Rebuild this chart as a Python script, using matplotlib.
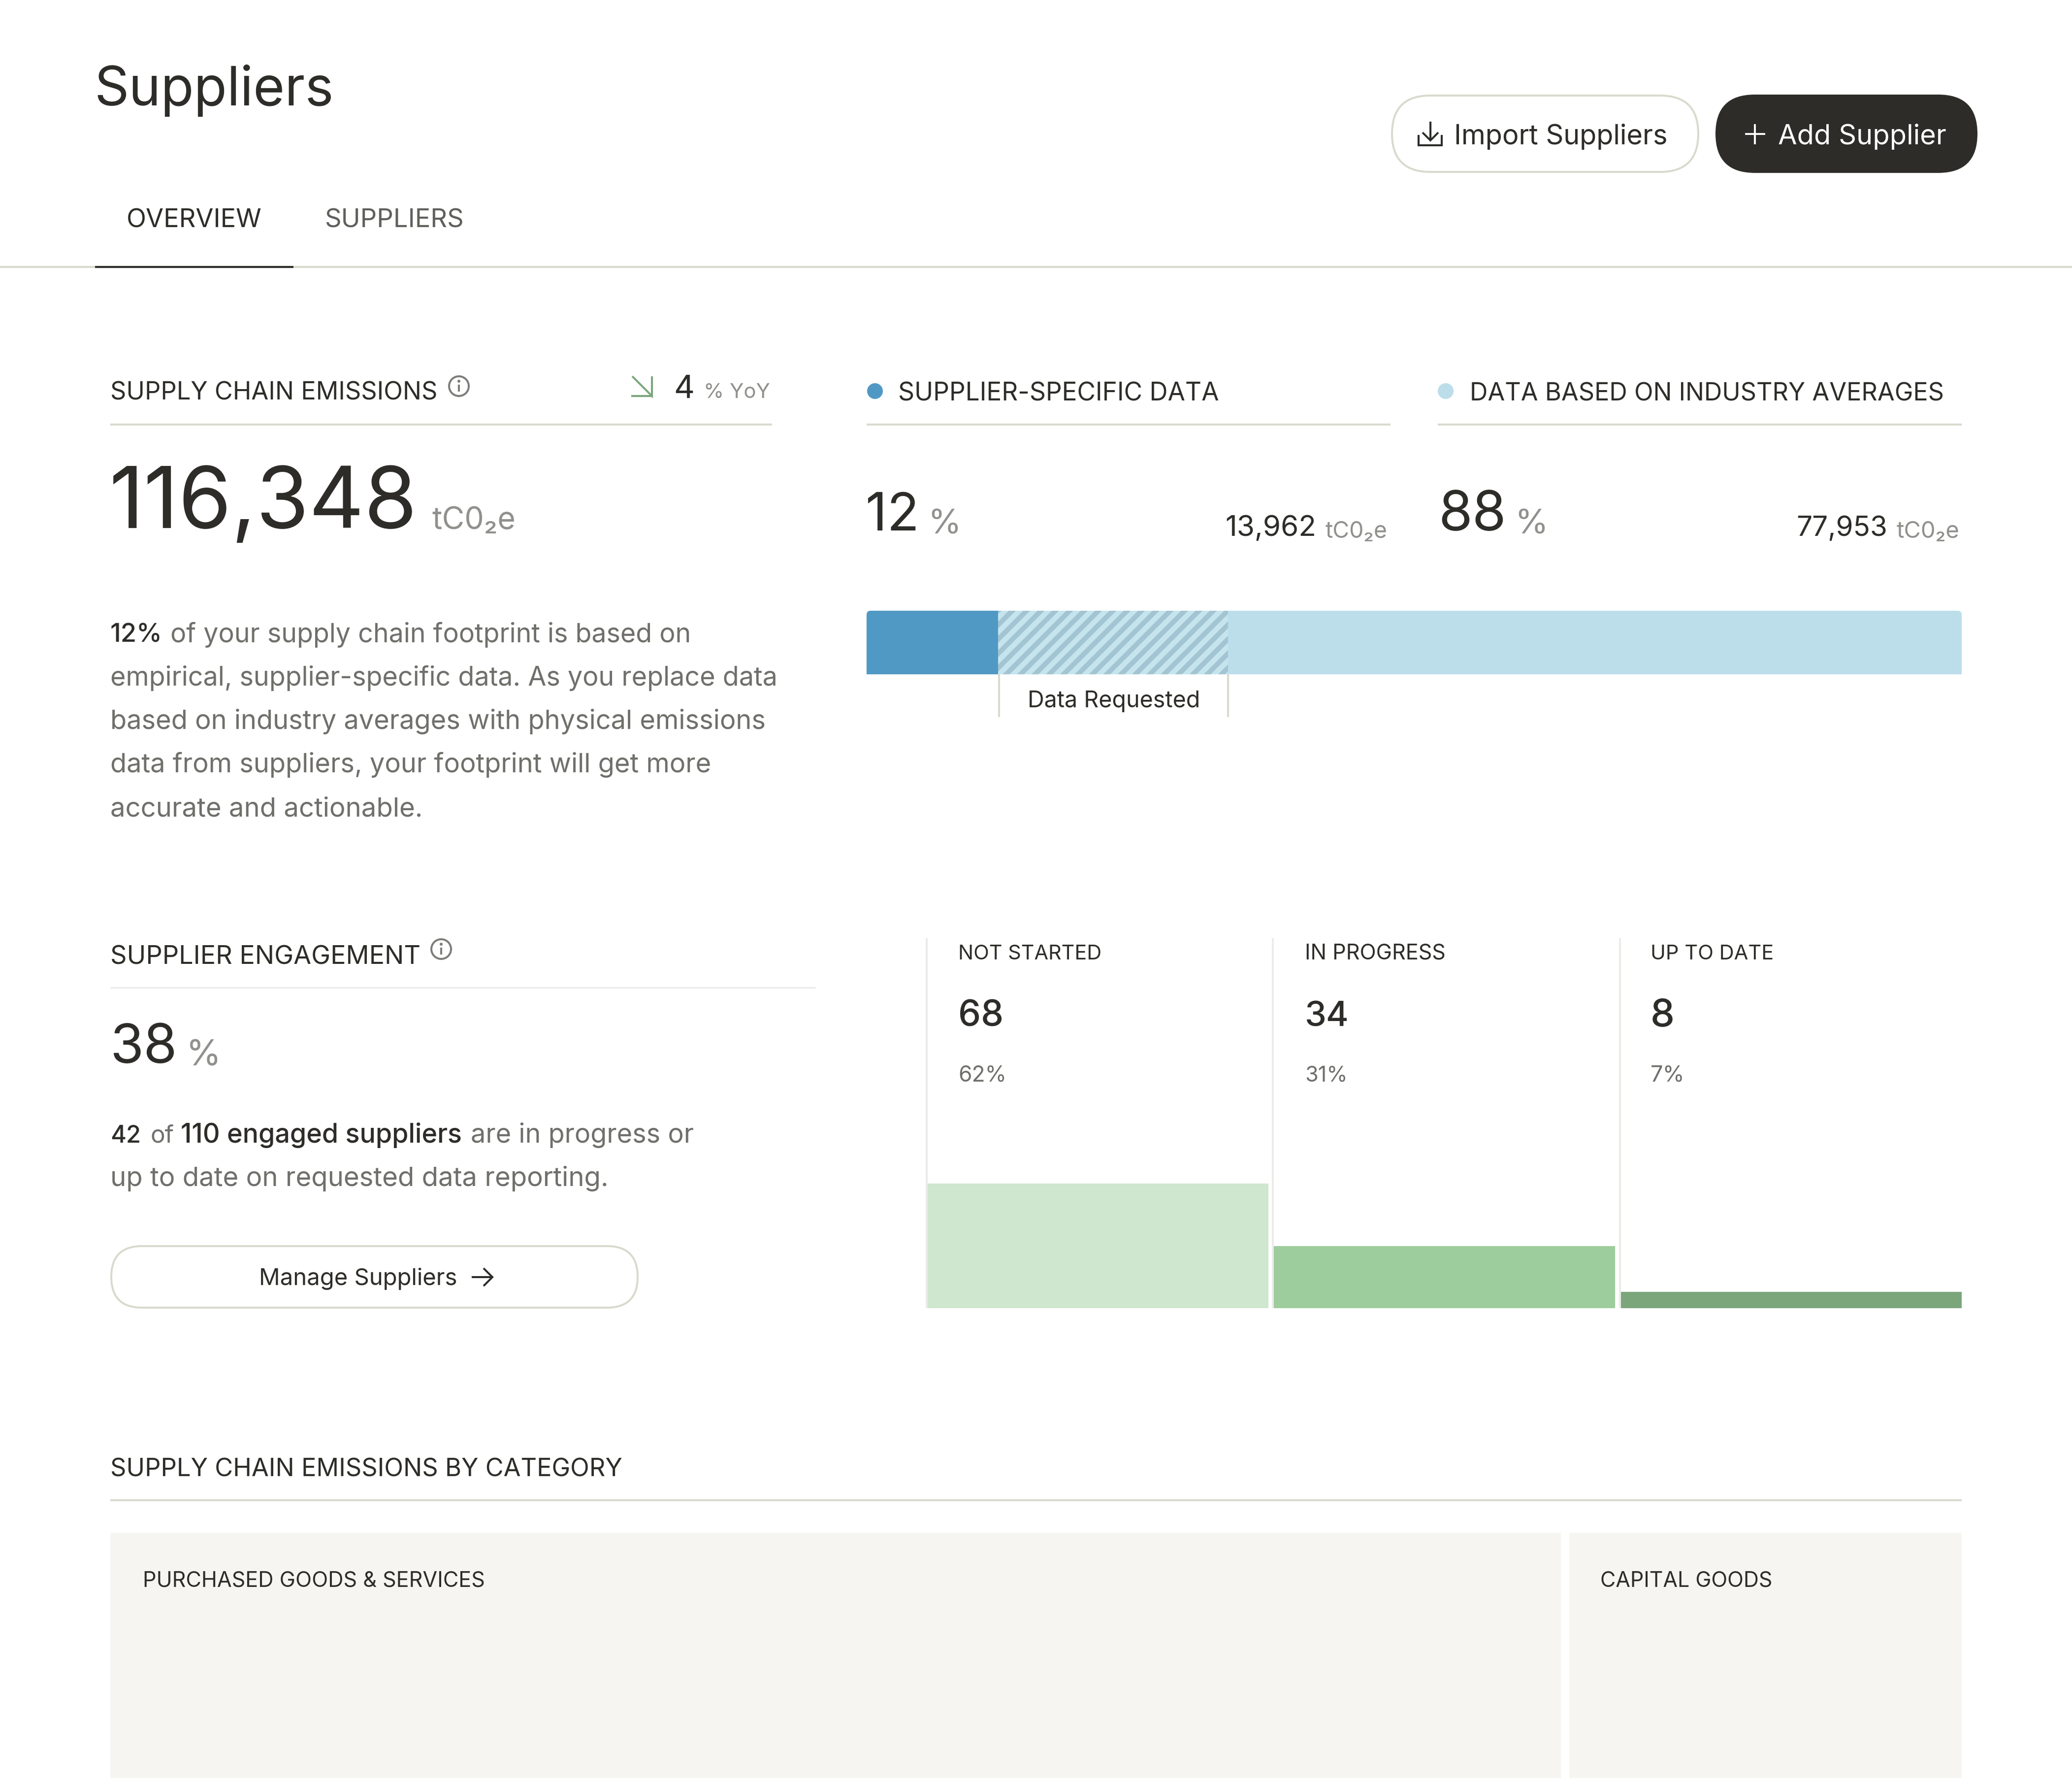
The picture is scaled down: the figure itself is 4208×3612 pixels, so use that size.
import matplotlib
matplotlib.use("Agg")
import matplotlib.pyplot as plt
from matplotlib.patches import Circle, FancyBboxPatch, Rectangle

# ---- data ----
source_labels = ["Supplier-specific", "Data requested", "Industry averages"]
source_shares = [12, 21, 67]
status_labels = ["NOT STARTED", "IN PROGRESS", "UP TO DATE"]
status_counts = [68, 34, 8]
status_bar_heights = [68, 34, 8.9]   # as drawn in the picture
status_pcts = ["62%", "31%", "7%"]
category_labels = ["PURCHASED GOODS & SERVICES", "CAPITAL GOODS"]

# ---- styles ----
W, H, DPI = 4208, 3612, 175
FONT = ["Inter", "DejaVu Sans"]
DARK = "#2D2C28"
GRAY = "#6F6F6B"
MUTED = "#90908D"
RULE = "#D9DACD"
SOFT = "#EBEBE8"
plt.rcParams["font.family"] = FONT
plt.rcParams["hatch.linewidth"] = 10 * 72 / DPI

fig = plt.figure(figsize=(W / DPI, H / DPI), dpi=DPI, facecolor="white")


def px_axes(x0, y0, x1, y1, **kw):
    return fig.add_axes([x0 / W, 1 - y1 / H, (x1 - x0) / W, (y1 - y0) / H], **kw)


def pt(p):
    return p * 72 / DPI


# stacked source bar
ax_src = px_axes(1760, 1240, 3984, 1369)
src_colors = ["#5199C5", "#C5E4EE", "#BCDEEA"]
left = 0
src_bars = []
for i, share in enumerate(source_shares):
    if i == 1:
        c = ax_src.barh(0, share, left=left, height=1, color=src_colors[i],
                        edgecolor="#A3C4D2", linewidth=0, hatch="//")
    else:
        c = ax_src.barh(0, share, left=left, height=1, color=src_colors[i], linewidth=0)
    src_bars.extend(c)
    left += share
ax_src.set_xlim(0, sum(source_shares))
ax_src.set_ylim(-0.5, 0.5)
ax_src.axis("off")

# engagement columns
ax_eng = px_axes(1880, 2403, 3984, 2656)
bar_w = 696 / 704
ax_eng.bar(range(3), status_bar_heights, width=bar_w,
           color=["#CFE6CF", "#9DCD9C", "#7BA67C"], linewidth=0)
ax_eng.set_xlim(-bar_w / 2, 2 + bar_w / 2)
ax_eng.set_ylim(0, max(status_counts))
ax_eng.axis("off")

# page overlay in pixel coordinates
ov = fig.add_axes([0, 0, 1, 1], facecolor="none")
ov.set_xlim(0, W)
ov.set_ylim(H, 0)
ov.axis("off")
renderer = fig.canvas.get_renderer()

# rounded top corners of the stacked bar
clip = FancyBboxPatch((1760, 1240), 2224, 160, boxstyle="round,pad=0,rounding_size=8",
                      transform=ov.transData)
for b in src_bars:
    b.set_clip_path(clip)


def T(x0, x1, y, s, color=DARK, weight="normal", boost=1.0):
    t = ov.text(x0, y, s, color=color, fontsize=20, va="baseline", ha="left",
                family=FONT, weight=weight)
    t.set_fontsize(boost * 20 * (x1 - x0) / t.get_window_extent(renderer).width)
    return t


def line(xs, ys, color=RULE, w=4):
    ov.plot(xs, ys, color=color, lw=pt(w), solid_capstyle="butt", solid_joinstyle="miter")


def pill(x0, y0, x1, y1, fc, ec, w=4):
    r = (y1 - y0) / 2
    ov.add_patch(FancyBboxPatch((x0, y0), x1 - x0, y1 - y0,
                                boxstyle=f"round,pad=0,rounding_size={r}",
                                fc=fc, ec=ec, lw=pt(w)))


def info(cx, cy):
    ov.add_patch(Circle((cx, cy), 20, fc="none", ec="#7C7C79", lw=pt(4)))
    line([cx, cx], [cy - 3, cy + 11], "#7C7C79", 4)
    ov.add_patch(Circle((cx, cy - 10), 3, fc="#7C7C79", ec="none"))


# header
T(191, 677, 214, "Suppliers")
pill(2827, 194, 3449, 349, "white", RULE)
pill(3484, 192, 4016, 351, DARK, "none", 0)
T(2953, 3387, 293, "Import Suppliers")
T(3611, 3953, 293, "Add Supplier", "white")
line([2905, 2905], [247, 285], DARK, 4)
line([2889, 2905, 2921], [269, 285, 269], DARK, 4)
line([2881, 2881, 2928, 2928], [274, 295, 295, 274], DARK, 4)
line([3544, 3585], [272, 272], "white", 4)
line([3564, 3564], [252, 293], "white", 4)
T(257, 531, 462, "OVERVIEW")
T(660, 942, 462, "SUPPLIERS", "#5F5F5C")
line([0, W], [542, 542], RULE, 4)
line([193, 596], [542, 542], DARK, 4)

# supply chain emissions
T(224, 887, 812, "SUPPLY CHAIN EMISSIONS")
info(932, 784)
line([1284, 1324, 1324], [764, 804, 764], "#7BA67C", 4)
line([1282, 1324], [804, 804], "#7BA67C", 4)
T(1368, 1403, 808, "4", boost=1.2)
T(1429, 1564, 808, "% YoY", MUTED)
line([224, 1568], [862, 862])
T(222, 848, 1072, "116,348")
T(877, 1047, 1074, "tC0₂e", MUTED)

T(224, 330, 1304, "12%", weight="medium")
T(346, 1404, 1304, "of your supply chain footprint is based on", GRAY)
T(224, 1581, 1392, "empirical, supplier-specific data. As you replace data", GRAY)
T(224, 1557, 1480, "based on industry averages with physical emissions", GRAY)
T(224, 1447, 1568, "data from suppliers, your footprint will get more", GRAY)
T(224, 859, 1657, "accurate and actionable.", GRAY)

# data sources
ov.add_patch(Circle((1777, 794), 16, fc=src_colors[0], ec="none"))
T(1824, 2475, 813, "SUPPLIER-SPECIFIC DATA")
line([1760, 2824], [862, 862])
ov.add_patch(Circle((2936, 794), 16, fc=src_colors[2], ec="none"))
T(2985, 3948, 813, "DATA BASED ON INDUSTRY AVERAGES")
line([2920, 3984], [862, 862])
T(1758, 1857, 1077, "12", boost=1.1)
T(1884, 1943, 1083, "%", MUTED, boost=1.15)
T(2488, 2673, 1088, "13,962")
T(2692, 2818, 1092, "tC0₂e", MUTED)
T(2921, 3052, 1077, "88", boost=1.05)
T(3076, 3135, 1083, "%", MUTED, boost=1.15)
T(3648, 3833, 1088, "77,953")
T(3852, 3980, 1092, "tC0₂e", MUTED)
line([2029, 2029], [1369, 1456])
line([2494, 2494], [1369, 1456])
T(2087, 2438, 1436, "Data Requested")

# supplier engagement
T(224, 853, 1957, "SUPPLIER ENGAGEMENT")
info(896, 1927)
line([224, 1656], [2005, 2005], SOFT, 3)
T(224, 354, 2158, "38", boost=1.05)
T(378, 440, 2164, "%", MUTED, boost=1.15)
T(224, 286, 2320, "42", weight="medium")
T(305, 353, 2320, "of", GRAY)
T(367, 938, 2320, "110 engaged suppliers", weight="medium")
T(956, 1409, 2320, "are in progress or", GRAY)
T(224, 1237, 2408, "up to date on requested data reporting.", GRAY)
pill(226, 2530, 1295, 2655, "white", RULE)
T(526, 929, 2609, "Manage Suppliers")
line([958, 1000], [2593, 2593], DARK, 4)
line([982, 1000, 982], [2575, 2593, 2611], DARK, 4)

col_x = [1946, 2650, 3352]
label_right = [2237, 2936, 3602]
count_right = [2038, 2740, 3401]
pct_right = [2044, 2737, 3422]
for i, sep in enumerate([1882, 2585, 3290]):
    line([sep, sep], [1905, 2656], SOFT, 4)
    T(col_x[i], label_right[i], 1948, status_labels[i])
    T(col_x[i], count_right[i], 2084, str(status_counts[i]), weight="medium")
    T(col_x[i], pct_right[i], 2196, status_pcts[i], GRAY)

# category section
T(224, 1262, 2998, "SUPPLY CHAIN EMISSIONS BY CATEGORY")
line([224, 3984], [3046, 3046], RULE, 4)
ov.add_patch(Rectangle((224, 3112), 2946, 498, fc="#F6F5F1", ec="none"))
ov.add_patch(Rectangle((3187, 3112), 797, 498, fc="#F6F5F1", ec="none"))
T(290, 985, 3221, category_labels[0])
T(3250, 3600, 3221, category_labels[1])

fig.savefig("out.png", dpi=DPI, facecolor="white")
